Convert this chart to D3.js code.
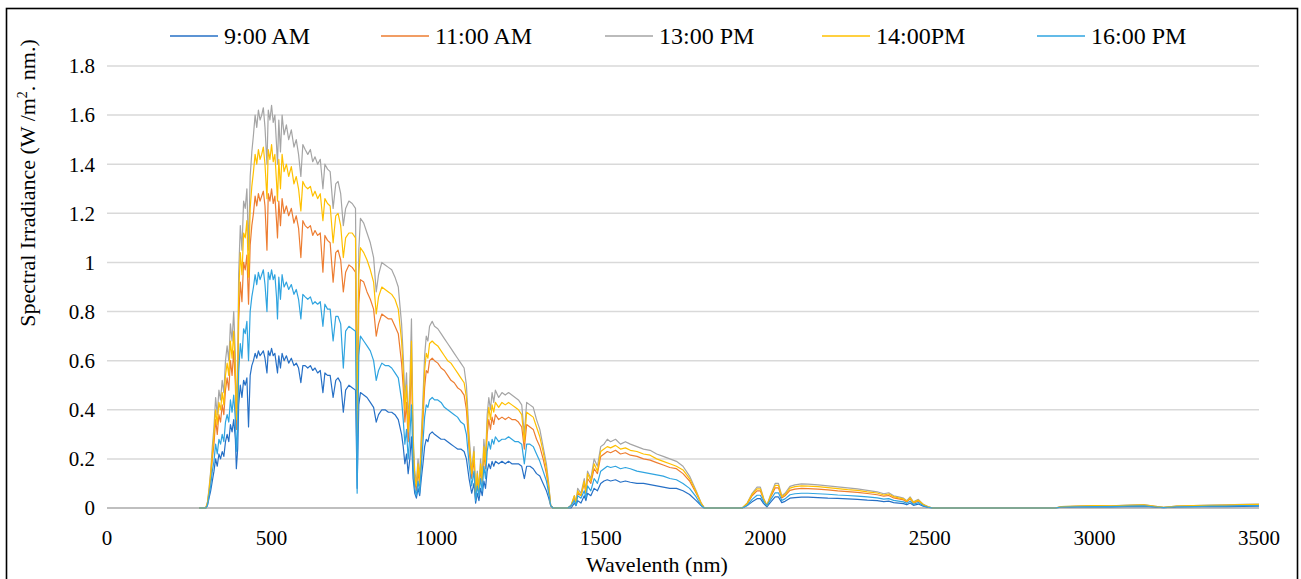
<!DOCTYPE html>
<html><head><meta charset="utf-8">
<script src="https://cdn.jsdelivr.net/npm/d3@7/dist/d3.min.js"></script>
<style>body{margin:0;background:#fff}svg{display:block}</style>
</head><body><svg id="c" width="1301" height="579" font-family="'Liberation Serif', 'Times New Roman', 'DejaVu Serif', serif"></svg>
<script>
const wavelengths = [
280,300,305,310,315,320,325,330,335,340,
345,350,355,360,365,370,375,380,385,390,
393,397,400,405,410,415,420,425,430,435,
440,445,450,455,460,465,470,475,480,486,
490,495,500,505,510,515,518,522,527,532,
538,545,552,560,568,575,582,589,595,602,
610,618,625,632,640,648,656,662,670,678,
687,695,702,710,718,725,735,745,755,760,
765,770,780,790,800,810,818,825,835,845,
855,865,875,885,895,900,905,910,915,920,
925,930,935,940,945,950,955,960,965,970,
975,980,988,995,1005,1015,1025,1035,1045,1055,
1065,1075,1085,1092,1100,1108,1115,1120,1125,1130,
1135,1140,1145,1150,1155,1160,1165,1170,1175,1180,
1190,1200,1210,1220,1230,1240,1250,1260,1268,1275,
1285,1295,1305,1315,1325,1335,1342,1348,1355,1400,
1410,1420,1425,1430,1440,1450,1455,1460,1470,1480,
1490,1500,1510,1520,1530,1545,1560,1575,1590,1610,
1630,1650,1670,1690,1710,1730,1750,1770,1790,1805,
1815,1930,1945,1960,1975,1985,1995,2005,2015,2030,
2040,2050,2060,2075,2090,2110,2130,2160,2190,2220,
2250,2280,2310,2340,2360,2375,2390,2405,2420,2430,
2440,2450,2465,2480,2495,2510,2880,2900,2950,3000,
3050,3100,3150,3180,3210,3250,3300,3350,3400,3450,
3500];

const s0900 = [
0,0,.01,.04,.07,.11,.15,.20,.17,.22,
.20,.23,.21,.27,.30,.27,.34,.31,.36,.28,
.16,.24,.42,.50,.45,.52,.50,.53,.33,.54,
.58,.60,.63,.61,.64,.62,.63,.64,.61,.55,
.64,.62,.65,.62,.63,.58,.55,.62,.57,.63,
.60,.62,.59,.61,.58,.59,.57,.51,.58,.58,
.57,.58,.56,.57,.55,.56,.47,.55,.54,.54,
.45,.52,.53,.51,.39,.48,.50,.49,.48,.08,
.42,.47,.46,.45,.43,.41,.35,.38,.40,.40,
.39,.39,.38,.36,.30,.25,.18,.22,.14,.20,
.29,.12,.06,.04,.08,.05,.12,.18,.25,.28,
.27,.30,.31,.30,.29,.28,.28,.27,.26,.25,
.24,.24,.23,.20,.12,.06,.10,.02,.06,.03,
.08,.05,.11,.08,.15,.18,.16,.19,.17,.19,
.18,.19,.18,.19,.18,.18,.18,.17,.12,.17,
.17,.16,.14,.13,.10,.07,.04,.01,0,0,
0,.02,.01,.03,.02,.05,.03,.06,.05,.08,
.07,.10,.11,.115,.11,.115,.105,.11,.105,.10,
.10,.095,.09,.085,.08,.08,.07,.055,.03,.01,
0,0,.01,.025,.038,.038,.018,.005,.022,.045,
.045,.022,.027,.04,.042,.044,.044,.042,.04,.039,
.037,.035,.032,.03,.026,.028,.022,.02,.018,.013,
.02,.011,.016,.007,.002,0,0,.003,.004,.005,
.004,.006,.007,.004,.001,.004,.005,.006,.006,.007,
.008];

const s1100 = [
0,0,.02,.06,.12,.20,.26,.36,.30,.38,
.35,.42,.38,.48,.53,.48,.60,.54,.64,.50,
.32,.44,.76,.92,.84,1.00,.97,1.03,.83,1.07,
1.15,1.20,1.27,1.23,1.28,1.25,1.27,1.29,1.23,1.05,
1.28,1.25,1.30,1.24,1.27,1.17,1.10,1.25,1.15,1.26,
1.20,1.23,1.19,1.22,1.16,1.19,1.14,1.02,1.17,1.15,
1.14,1.15,1.11,1.13,1.11,1.12,.96,1.11,1.09,1.08,
.92,1.04,1.05,1.01,.88,.96,.99,.98,.96,.22,
.83,.93,.92,.88,.85,.81,.70,.75,.79,.78,
.77,.77,.74,.71,.59,.49,.35,.43,.27,.40,
.60,.23,.11,.07,.15,.09,.23,.36,.49,.56,
.55,.60,.61,.60,.59,.57,.56,.54,.52,.51,
.49,.48,.46,.40,.24,.12,.20,.04,.12,.06,
.16,.10,.22,.16,.30,.36,.32,.37,.34,.38,
.36,.37,.36,.37,.36,.36,.35,.33,.24,.34,
.33,.32,.28,.25,.20,.14,.08,.01,0,0,
.01,.04,.02,.06,.05,.10,.06,.12,.10,.16,
.14,.21,.22,.23,.225,.235,.22,.225,.215,.21,
.20,.195,.185,.175,.165,.16,.14,.11,.06,.02,
0,0,.015,.05,.07,.07,.033,.01,.041,.082,
.082,.041,.05,.072,.077,.08,.079,.077,.074,.07,
.067,.064,.059,.054,.048,.051,.041,.037,.033,.025,
.037,.02,.029,.012,.004,0,0,.005,.007,.008,
.007,.01,.011,.007,.002,.007,.008,.01,.011,.012,
.013];

const s1300 = [
0,0,.02,.08,.15,.25,.33,.45,.38,.48,
.44,.52,.47,.60,.66,.60,.75,.68,.80,.62,
.40,.55,.95,1.15,1.05,1.25,1.22,1.30,1.05,1.35,
1.45,1.52,1.60,1.55,1.62,1.58,1.60,1.63,1.55,1.40,
1.62,1.58,1.64,1.57,1.60,1.48,1.40,1.58,1.45,1.60,
1.52,1.56,1.50,1.54,1.47,1.50,1.44,1.35,1.48,1.46,
1.44,1.46,1.41,1.43,1.40,1.42,1.30,1.40,1.38,1.37,
1.22,1.32,1.33,1.28,1.15,1.22,1.25,1.24,1.22,.40,
1.05,1.18,1.16,1.12,1.08,1.02,.88,.95,1.00,.99,
.98,.97,.94,.90,.75,.62,.45,.55,.35,.50,
.77,.30,.15,.10,.20,.12,.30,.45,.62,.70,
.68,.74,.76,.74,.73,.71,.69,.67,.65,.63,
.61,.59,.57,.50,.30,.15,.25,.05,.15,.08,
.20,.12,.28,.20,.38,.45,.40,.47,.43,.48,
.45,.47,.46,.47,.46,.45,.44,.42,.30,.43,
.42,.41,.36,.32,.25,.18,.10,.01,0,0,
.01,.05,.02,.08,.06,.12,.07,.15,.12,.20,
.17,.25,.26,.28,.27,.28,.26,.27,.26,.25,
.24,.235,.22,.21,.20,.19,.17,.13,.07,.02,
0,0,.02,.06,.085,.085,.04,.01,.05,.10,
.10,.05,.06,.088,.094,.098,.097,.094,.09,.086,
.082,.078,.072,.066,.058,.062,.05,.045,.04,.03,
.045,.025,.035,.015,.005,0,0,.006,.008,.01,
.009,.012,.014,.008,.003,.008,.01,.012,.013,.015,
.016];

const s1400 = [
0,0,.02,.07,.14,.22,.30,.40,.34,.43,
.40,.47,.42,.54,.59,.54,.68,.61,.72,.56,
.36,.50,.86,1.04,.95,1.12,1.10,1.17,.94,1.22,
1.31,1.37,1.44,1.40,1.46,1.42,1.44,1.47,1.40,1.26,
1.46,1.42,1.48,1.41,1.44,1.33,1.25,1.42,1.30,1.44,
1.37,1.40,1.35,1.39,1.32,1.35,1.30,1.21,1.33,1.31,
1.30,1.31,1.27,1.29,1.26,1.28,1.17,1.26,1.24,1.23,
1.08,1.19,1.20,1.15,1.02,1.10,1.12,1.12,1.10,.30,
.95,1.06,1.04,1.01,.97,.92,.79,.86,.90,.89,
.88,.87,.85,.81,.68,.56,.40,.50,.31,.45,
.68,.27,.13,.09,.18,.10,.27,.40,.56,.63,
.61,.67,.68,.67,.66,.64,.62,.60,.59,.57,
.55,.53,.51,.45,.27,.14,.23,.05,.14,.07,
.18,.11,.25,.18,.34,.41,.36,.42,.39,.43,
.41,.43,.42,.43,.42,.41,.40,.38,.27,.39,
.38,.37,.33,.29,.23,.16,.09,.01,0,0,
.01,.05,.02,.07,.05,.11,.06,.14,.11,.18,
.15,.23,.24,.25,.245,.255,.24,.245,.235,.23,
.22,.215,.20,.19,.18,.17,.155,.12,.065,.02,
0,0,.02,.055,.078,.078,.037,.01,.046,.092,
.092,.046,.055,.081,.087,.09,.089,.087,.083,.079,
.075,.072,.066,.061,.053,.057,.046,.041,.037,.028,
.041,.023,.032,.014,.005,0,0,.006,.008,.01,
.009,.011,.013,.008,.003,.008,.01,.011,.012,.014,
.015];

const s1600 = [
0,0,.01,.05,.09,.15,.19,.26,.22,.28,
.26,.30,.27,.35,.38,.35,.44,.39,.46,.36,
.23,.32,.55,.67,.61,.73,.71,.76,.60,.80,
.86,.90,.95,.91,.96,.93,.95,.97,.91,.80,
.96,.93,.97,.93,.95,.86,.77,.94,.85,.95,
.90,.92,.89,.91,.87,.89,.85,.77,.87,.86,
.85,.86,.83,.84,.83,.84,.74,.83,.81,.81,
.68,.78,.78,.75,.57,.72,.74,.73,.72,.06,
.62,.70,.68,.66,.64,.60,.52,.56,.59,.58,
.58,.57,.55,.53,.44,.36,.26,.32,.20,.29,
.42,.17,.08,.05,.11,.06,.17,.27,.37,.42,
.41,.44,.45,.44,.44,.43,.41,.40,.39,.38,
.37,.35,.34,.30,.18,.09,.15,.03,.09,.05,
.12,.07,.17,.12,.23,.27,.24,.28,.26,.29,
.27,.28,.28,.29,.28,.27,.27,.26,.18,.26,
.26,.25,.22,.19,.15,.11,.06,.01,0,0,
.01,.03,.01,.05,.04,.07,.04,.09,.07,.12,
.10,.15,.16,.17,.165,.17,.16,.165,.16,.15,
.145,.14,.135,.13,.12,.115,.10,.08,.045,.01,
0,0,.01,.035,.052,.052,.025,.01,.031,.062,
.062,.031,.037,.054,.058,.06,.06,.058,.056,.053,
.051,.048,.045,.041,.036,.038,.031,.028,.025,.019,
.028,.015,.022,.009,.003,0,0,.004,.005,.006,
.006,.008,.009,.005,.002,.005,.006,.008,.008,.01,
.01];

const seriesNames = ["9:00 AM","11:00 AM","13:00 PM","14:00PM","16:00 PM"];
const seriesValues = [s0900, s1100, s1300, s1400, s1600];
const seriesColors = ["#2670C6","#ED7D31","#A5A5A5","#FFC000","#2FA4E0"];
const xTicks = [0,500,1000,1500,2000,2500,3000,3500];
const yTicks = [0,0.2,0.4,0.6,0.8,1,1.2,1.4,1.6,1.8];

const FONT = "'Liberation Serif', 'Times New Roman', 'DejaVu Serif', serif";
const svg = d3.select("#c");
const x = d3.scaleLinear().domain([0,3500]).range([107,1259]);
const y = d3.scaleLinear().domain([0,1.8]).range([508,66]);

// outer border
svg.append("rect").attr("x",6.5).attr("y",8.5).attr("width",1291).attr("height",590)
  .attr("fill","none").attr("stroke","#000").attr("stroke-width",1.6);

// gridlines
svg.append("g").selectAll("line").data(yTicks.slice(1)).join("line")
  .attr("x1",x(0)).attr("x2",x(3500)).attr("y1",d=>y(d)).attr("y2",d=>y(d))
  .attr("stroke","#D9D9D9").attr("stroke-width",1.5);

// y labels
const fmt = d => d===0||d===1 ? String(d) : d.toFixed(1);
svg.append("g").selectAll("text").data(yTicks).join("text")
  .attr("x",95).attr("y",d=>y(d)).attr("dy","0.35em").attr("text-anchor","end")
  .attr("font-family",FONT).attr("font-size",21).attr("fill","#000").text(fmt);

// x labels
svg.append("g").selectAll("text").data(xTicks).join("text")
  .attr("x",d=>x(d)).attr("y",545).attr("text-anchor","middle")
  .attr("font-family",FONT).attr("font-size",21).attr("fill","#000").text(d=>d);

// axis line
svg.append("line").attr("x1",x(0)).attr("x2",x(3500)).attr("y1",y(0)).attr("y2",y(0))
  .attr("stroke","#BFBFBF").attr("stroke-width",2);

// series
const line = d3.line().x((d,i)=>x(wavelengths[i])).y(d=>y(d));
svg.append("g").selectAll("path").data(seriesValues).join("path")
  .attr("d",d=>line(d)).attr("fill","none")
  .attr("stroke",(d,i)=>seriesColors[i]).attr("stroke-width",1.2)
  .attr("stroke-linejoin","round");

// legend
const legX = [170,381,605,822,1037];
const leg = svg.append("g").selectAll("g").data(seriesNames).join("g");
leg.append("line").attr("x1",(d,i)=>legX[i]).attr("x2",(d,i)=>legX[i]+48)
  .attr("y1",36).attr("y2",36).attr("stroke",(d,i)=>seriesColors[i]).attr("stroke-width",1.3);
leg.append("text").attr("x",(d,i)=>legX[i]+54).attr("y",44)
  .attr("font-family",FONT).attr("font-size",24).attr("fill","#000").text(d=>d);

// axis titles
svg.append("text").attr("x",657).attr("y",572).attr("text-anchor","middle")
  .attr("font-family",FONT).attr("font-size",22).attr("fill","#000").text("Wavelenth (nm)");
const yt = svg.append("text").attr("transform","translate(35,183) rotate(-90)")
  .attr("text-anchor","middle").attr("font-family",FONT).attr("font-size",22).attr("fill","#000");
yt.append("tspan").text("Spectral Irradiance (W /m");
yt.append("tspan").attr("dy",-8).attr("font-size",14).text("2");
yt.append("tspan").attr("dy",8).text(". nm.)");
</script></body></html>
